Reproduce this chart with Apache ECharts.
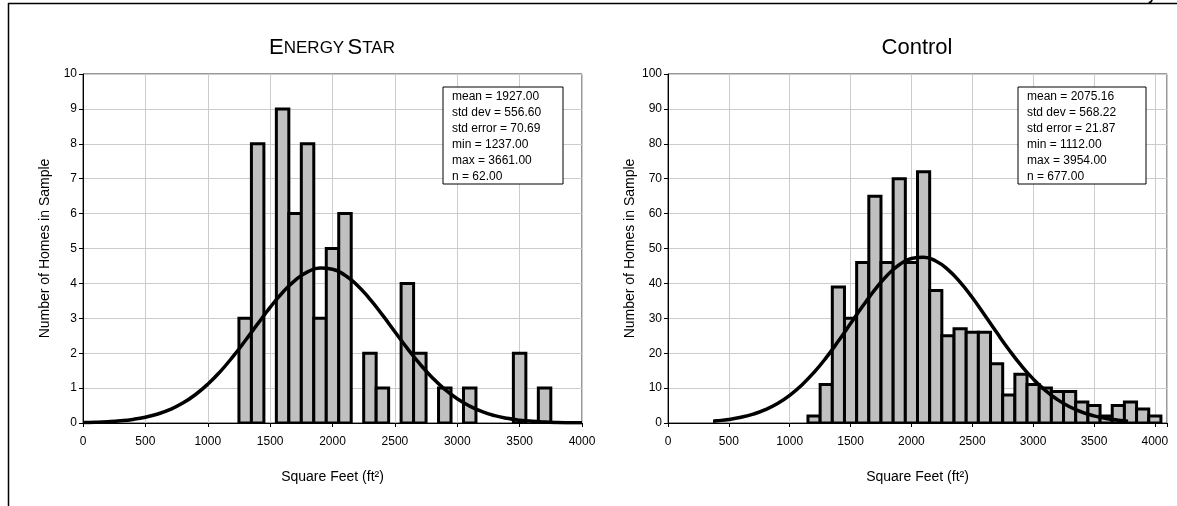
<!DOCTYPE html>
<html>
<head>
<meta charset="utf-8">
<script src="https://cdn.jsdelivr.net/npm/echarts@6/dist/echarts.min.js"></script>
<style>
  html, body { margin: 0; padding: 0; background: #fff; }
  #chart { width: 1177px; height: 506px; }
</style>
</head>
<body>
<div id="chart"></div>
<script>
// histogram bins (bin centre, sq ft) and counts
var binWidth = 100;
var energyBins = [1300, 1400, 1500, 1600, 1700, 1800, 1900, 2000, 2100, 2200, 2300, 2400, 2500,
  2600, 2700, 2800, 2900, 3000, 3100, 3200, 3300, 3400, 3500, 3600, 3700];
var energyCounts = [3, 8, 0, 9, 6, 8, 3, 5, 6, 0, 2, 1, 0, 4, 2, 0, 1, 0, 1, 0, 0, 0, 2, 0, 1];

var controlBins = [1200, 1300, 1400, 1500, 1600, 1700, 1800, 1900, 2000, 2100, 2200, 2300, 2400,
  2500, 2600, 2700, 2800, 2900, 3000, 3100, 3200, 3300, 3400, 3500, 3600, 3700, 3800, 3900, 4000];
var controlCounts = [2, 11, 39, 30, 46, 65, 46, 70, 46, 72, 38, 25, 27, 26, 26, 17, 8, 14, 11, 10,
  9, 9, 6, 5, 2, 5, 6, 4, 2];

// fitted normal curves, every 100 sq ft
var energyCurveX = [0, 100, 200, 300, 400, 500, 600, 700, 800, 900, 1000, 1100, 1200, 1300, 1400,
  1500, 1600, 1700, 1800, 1900, 2000, 2100, 2200, 2300, 2400, 2500, 2600, 2700, 2800, 2900, 3000,
  3100, 3200, 3300, 3400, 3500, 3600, 3700, 3800, 3900, 4000];
var energyCurveY = [0.011, 0.020, 0.036, 0.062, 0.103, 0.166, 0.259, 0.391, 0.572, 0.810, 1.110,
  1.474, 1.894, 2.356, 2.839, 3.311, 3.739, 4.089, 4.330, 4.439, 4.406, 4.234, 3.940, 3.550, 3.097,
  2.616, 2.139, 1.694, 1.299, 0.964, 0.693, 0.482, 0.325, 0.212, 0.134, 0.082, 0.049, 0.028, 0.015,
  0.008, 0.004];

var controlCurveX = [370, 400, 500, 600, 700, 800, 900, 1000, 1100, 1200, 1300, 1400, 1500, 1600,
  1700, 1800, 1900, 2000, 2100, 2200, 2300, 2400, 2500, 2600, 2700, 2800, 2900, 3000, 3100, 3200,
  3300, 3400, 3500, 3600, 3700, 3780];
var controlCurveY = [0.53, 0.62, 1.02, 1.64, 2.54, 3.83, 5.60, 7.93, 10.90, 14.52, 18.74, 23.47,
  28.48, 33.50, 38.22, 42.27, 45.33, 47.12, 47.49, 46.40, 43.95, 40.37, 35.94, 31.03, 25.97, 21.07,
  16.57, 12.64, 9.34, 6.70, 4.65, 3.14, 2.05, 1.30, 0.80, 0.53];

var energyStats = ['mean = 1927.00', 'std dev = 556.60', 'std error = 70.69', 'min = 1237.00', 'max = 3661.00', 'n = 62.00'];
var controlStats = ['mean = 2075.16', 'std dev = 568.22', 'std error = 21.87', 'min = 1112.00', 'max = 3954.00', 'n = 677.00'];

var xTicks = [0, 500, 1000, 1500, 2000, 2500, 3000, 3500, 4000];

var font = 'Liberation Sans, Arial, sans-serif';

function zip(a, b) {
  return a.map(function (v, i) { return [v, b[i]]; });
}

function renderBin(params, api) {
  var h = api.value(1);
  if (!h) return null;
  var c = api.value(0);
  var p0 = api.coord([c - binWidth / 2, h]);
  var p1 = api.coord([c + binWidth / 2, 0]);
  return {
    type: 'rect',
    shape: { x: p0[0], y: p0[1], width: p1[0] - p0[0], height: p1[1] - p0[1] },
    style: { fill: '#c0c0c0', stroke: '#000', lineWidth: 3 }
  };
}

function xAxis(idx, max) {
  return {
    type: 'value', gridIndex: idx, min: 0, max: max, interval: 500,
    name: 'Square Feet (ft²)', nameLocation: 'middle', nameGap: 47,
    nameTextStyle: { color: '#000', fontSize: 14, fontFamily: font },
    axisLine: { lineStyle: { color: '#000' } },
    axisTick: { show: true, length: 4, lineStyle: { color: '#000' } },
    axisLabel: {
      color: '#000', fontSize: 12, fontFamily: font, margin: 13,
      formatter: function (v) { return xTicks.indexOf(v) >= 0 ? String(v) : ''; }
    },
    splitLine: { show: true, lineStyle: { color: '#cccccc' } }
  };
}

function yAxis(idx, max, step) {
  return {
    type: 'value', gridIndex: idx, min: 0, max: max, interval: step,
    name: 'Number of Homes in Sample', nameLocation: 'middle', nameGap: 31,
    nameTextStyle: { color: '#000', fontSize: 14, fontFamily: font },
    axisLine: { show: true, lineStyle: { color: '#000' } },
    axisTick: { show: true, length: 4, lineStyle: { color: '#000' } },
    axisLabel: { color: '#000', fontSize: 12, fontFamily: font, margin: 6 },
    splitLine: { show: true, lineStyle: { color: '#cccccc' } }
  };
}

function statBox(x, w, lines) {
  return {
    type: 'group',
    children: [
      { type: 'rect', shape: { x: x, y: 87, width: w, height: 97 }, style: { fill: '#fff', stroke: '#000', lineWidth: 1 }, z: 100 },
      { type: 'text', x: x + 9, y: 89, z: 101,
        style: { text: lines.join('\n'), fill: '#000', font: '12px ' + font, lineHeight: 16 } }
    ]
  };
}

var chart = echarts.init(document.getElementById('chart'));
chart.setOption({
  animation: false,
  backgroundColor: '#fff',
  grid: [
    { left: 83, top: 74, width: 499, height: 349, show: true, borderColor: '#333', borderWidth: 1, backgroundColor: 'transparent' },
    { left: 668, top: 74, width: 499, height: 349, show: true, borderColor: '#333', borderWidth: 1, backgroundColor: 'transparent' }
  ],
  xAxis: [xAxis(0, 4000), xAxis(1, 4100)],
  yAxis: [yAxis(0, 10, 1), yAxis(1, 100, 10)],
  series: [
    { type: 'custom', xAxisIndex: 0, yAxisIndex: 0, renderItem: renderBin, data: zip(energyBins, energyCounts), clip: true },
    { type: 'custom', xAxisIndex: 1, yAxisIndex: 1, renderItem: renderBin, data: zip(controlBins, controlCounts), clip: true },
    { type: 'line', xAxisIndex: 0, yAxisIndex: 0, data: zip(energyCurveX, energyCurveY), smooth: true,
      showSymbol: false, lineStyle: { color: '#000', width: 3.5 }, z: 10 },
    { type: 'line', xAxisIndex: 1, yAxisIndex: 1, data: zip(controlCurveX, controlCurveY), smooth: true,
      showSymbol: false, lineStyle: { color: '#000', width: 3.5 }, z: 10 }
  ],
  graphic: [
    // outer frame and a glyph of the caption cut off above it
    { type: 'line', shape: { x1: 8, y1: 3.5, x2: 1177, y2: 3.5 }, style: { stroke: '#000', lineWidth: 1.5 } },
    { type: 'line', shape: { x1: 8.5, y1: 3, x2: 8.5, y2: 506 }, style: { stroke: '#000', lineWidth: 1.5 } },
    { type: 'text', x: 1148, y: 3, style: { text: 'y', fill: '#000', font: 'bold 14px ' + font, verticalAlign: 'bottom' } },
    // titles
    { type: 'text', x: 332, y: 48,
      style: { text: '{a|E}{b|NERGY} {a|S}{b|TAR}', align: 'center', verticalAlign: 'middle',
        rich: { a: { fontSize: 22, fontFamily: font, fill: '#000' }, b: { fontSize: 17, fontFamily: font, fill: '#000' } } } },
    { type: 'text', x: 917, y: 48,
      style: { text: 'Control', align: 'center', verticalAlign: 'middle', fill: '#000', font: '22px ' + font } },
    statBox(443, 120, energyStats),
    statBox(1018, 128, controlStats)
  ]
});
</script>
</body>
</html>
